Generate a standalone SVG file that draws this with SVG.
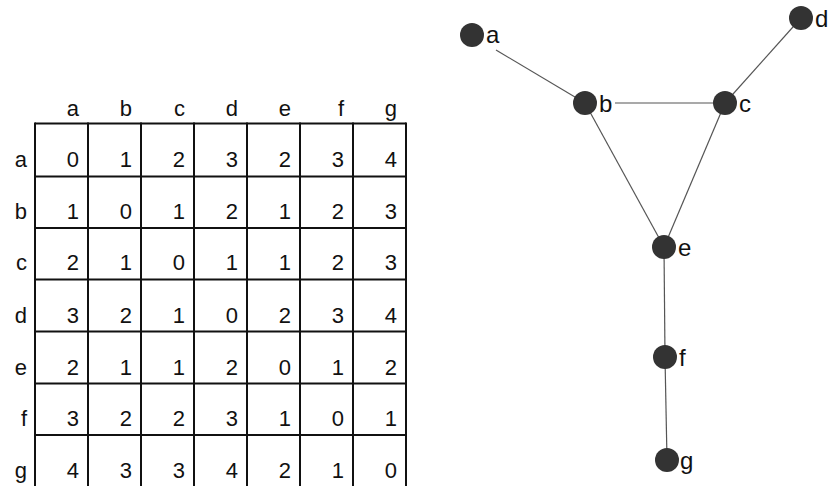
<svg xmlns="http://www.w3.org/2000/svg" width="832" height="486" viewBox="0 0 832 486">
<style>
.t{font-family:"Liberation Sans",Arial,sans-serif;font-size:22px;fill:#111;text-anchor:end}
.g{stroke:#111;stroke-width:2;fill:none}
.lbl{font-family:"Liberation Sans",Arial,sans-serif;font-size:24px;fill:#111}
.edge{stroke:#555;stroke-width:1.2;fill:none}
.node{fill:#333}
</style>
<rect width="832" height="486" fill="#fff"/>
<g id="matrix">
<g class="g">
<line x1="35" y1="123.5" x2="406" y2="123.5"/>
<line x1="35" y1="176.5" x2="406" y2="176.5"/>
<line x1="35" y1="228" x2="406" y2="228"/>
<line x1="35" y1="279.5" x2="406" y2="279.5"/>
<line x1="35" y1="331.5" x2="406" y2="331.5"/>
<line x1="35" y1="383.5" x2="406" y2="383.5"/>
<line x1="35" y1="435" x2="406" y2="435"/>
<line x1="35" y1="122.5" x2="35" y2="486"/>
<line x1="88" y1="122.5" x2="88" y2="486"/>
<line x1="141" y1="122.5" x2="141" y2="486"/>
<line x1="194" y1="122.5" x2="194" y2="486"/>
<line x1="247" y1="122.5" x2="247" y2="486"/>
<line x1="300" y1="122.5" x2="300" y2="486"/>
<line x1="353" y1="122.5" x2="353" y2="486"/>
<line x1="406" y1="122.5" x2="406" y2="486"/>
</g>
<g class="t">
<text x="79" y="116">a</text><text x="132" y="116">b</text><text x="185" y="116">c</text><text x="238" y="116">d</text><text x="291" y="116">e</text><text x="344" y="116">f</text><text x="397" y="116">g</text>
<text x="27" y="167">a</text><text x="27" y="218.5">b</text><text x="27" y="270">c</text><text x="27" y="322.5">d</text><text x="27" y="375">e</text><text x="27" y="425.5">f</text><text x="27" y="478">g</text>
<text x="79" y="167">0</text><text x="132" y="167">1</text><text x="185" y="167">2</text><text x="238" y="167">3</text><text x="291" y="167">2</text><text x="344" y="167">3</text><text x="397" y="167">4</text>
<text x="79" y="218.5">1</text><text x="132" y="218.5">0</text><text x="185" y="218.5">1</text><text x="238" y="218.5">2</text><text x="291" y="218.5">1</text><text x="344" y="218.5">2</text><text x="397" y="218.5">3</text>
<text x="79" y="270">2</text><text x="132" y="270">1</text><text x="185" y="270">0</text><text x="238" y="270">1</text><text x="291" y="270">1</text><text x="344" y="270">2</text><text x="397" y="270">3</text>
<text x="79" y="322.5">3</text><text x="132" y="322.5">2</text><text x="185" y="322.5">1</text><text x="238" y="322.5">0</text><text x="291" y="322.5">2</text><text x="344" y="322.5">3</text><text x="397" y="322.5">4</text>
<text x="79" y="375">2</text><text x="132" y="375">1</text><text x="185" y="375">1</text><text x="238" y="375">2</text><text x="291" y="375">0</text><text x="344" y="375">1</text><text x="397" y="375">2</text>
<text x="79" y="425.5">3</text><text x="132" y="425.5">2</text><text x="185" y="425.5">2</text><text x="238" y="425.5">3</text><text x="291" y="425.5">1</text><text x="344" y="425.5">0</text><text x="397" y="425.5">1</text>
<text x="79" y="478">4</text><text x="132" y="478">3</text><text x="185" y="478">3</text><text x="238" y="478">4</text><text x="291" y="478">2</text><text x="344" y="478">1</text><text x="397" y="478">0</text>
</g>
</g>
<g id="edges">
<line class="edge" x1="496" y1="50" x2="585" y2="103"/>
<line class="edge" x1="615" y1="103" x2="725" y2="103"/>
<line class="edge" x1="725" y1="103" x2="801" y2="18"/>
<line class="edge" x1="585" y1="103" x2="664" y2="247"/>
<line class="edge" x1="725" y1="103" x2="664" y2="247"/>
<line class="edge" x1="664" y1="247" x2="665" y2="357"/>
<line class="edge" x1="665" y1="357" x2="667" y2="460"/>
</g>
<g id="node-a"><circle class="node" cx="472" cy="35" r="12"/><text class="lbl" x="486" y="43">a</text></g>
<g id="node-b"><circle class="node" cx="585" cy="103" r="12"/><text class="lbl" x="599" y="112">b</text></g>
<g id="node-c"><circle class="node" cx="725" cy="103" r="12"/><text class="lbl" x="739" y="112">c</text></g>
<g id="node-d"><circle class="node" cx="801" cy="18" r="12"/><text class="lbl" x="815" y="27">d</text></g>
<g id="node-e"><circle class="node" cx="664" cy="247" r="12"/><text class="lbl" x="678" y="256">e</text></g>
<g id="node-f"><circle class="node" cx="665" cy="357" r="12"/><text class="lbl" x="679" y="366">f</text></g>
<g id="node-g"><circle class="node" cx="667" cy="460" r="12"/><text class="lbl" x="680" y="469">g</text></g>
</svg>
